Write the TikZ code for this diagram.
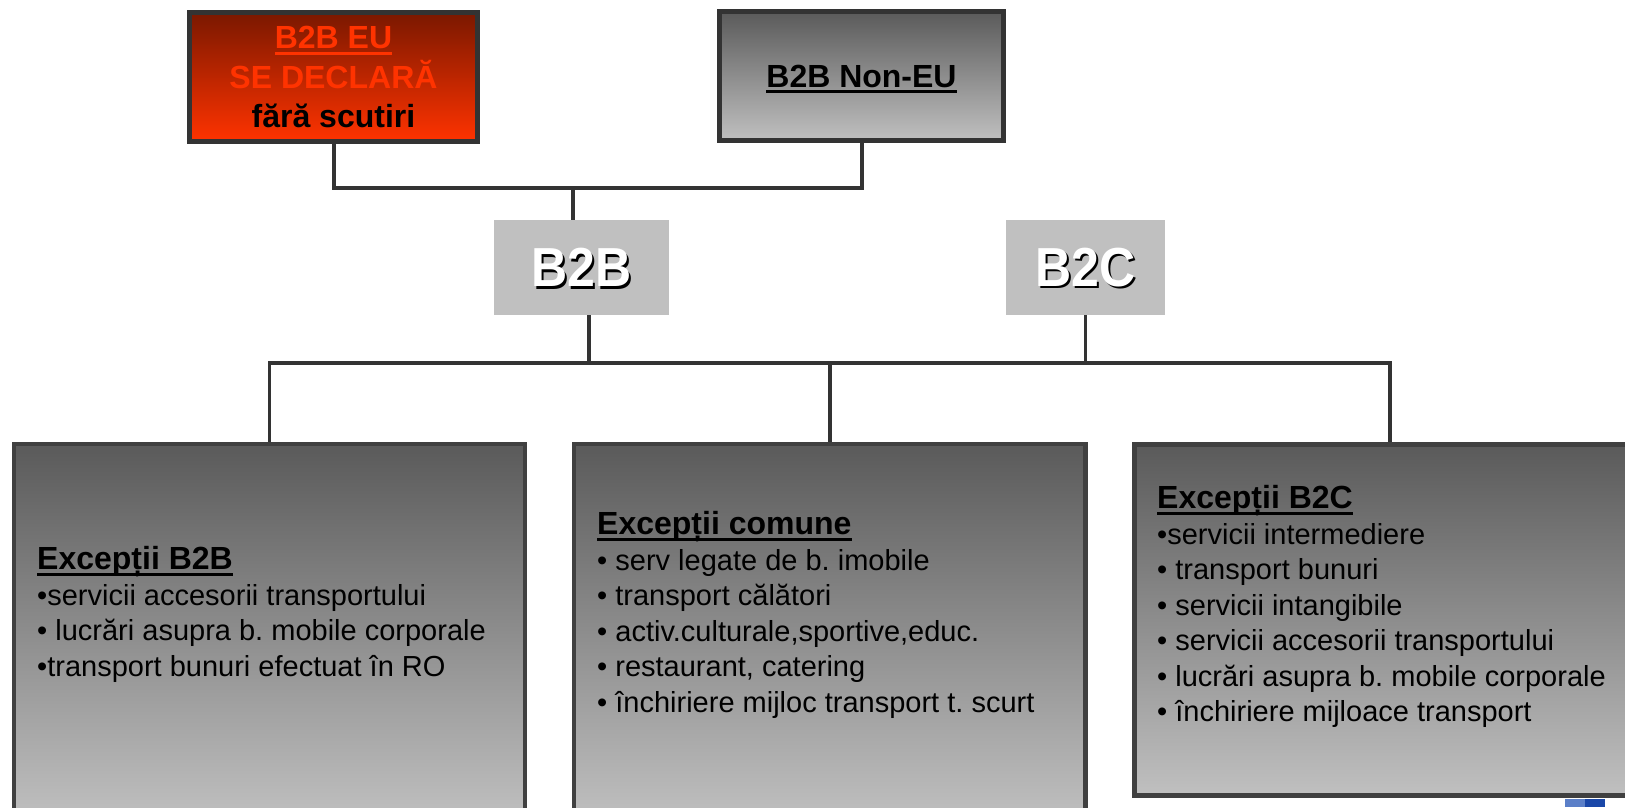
\documentclass[tikz,border=0pt]{standalone}
\usepackage{fontspec}
\usepackage{graphicx}
\setmainfont{Liberation Sans}
\frenchspacing
\definecolor{redtop}{HTML}{7A1800}
\definecolor{redbot}{HTML}{FF3300}
\definecolor{txtred}{HTML}{FF3300}
\definecolor{gtop}{HTML}{5A5A5A}
\definecolor{gbot}{HTML}{C0C0C0}
\definecolor{edge}{HTML}{333333}
\definecolor{edgeb}{HTML}{404040}
\definecolor{lblue}{HTML}{5B7FC8}
\definecolor{dblue}{HTML}{1A47A8}
\newsavebox\ulbox
\newcommand\myul[1]{\sbox\ulbox{#1}\rlap{\raisebox{-0.19em}[0pt][0pt]{\rule{\wd\ulbox}{0.085em}}}\usebox\ulbox}
\newcommand\shtext[1]{\scalebox{0.91}[1]{\rlap{\kern2.5pt\raisebox{-2.5pt}[0pt][0pt]{\color{black}#1}}\color{white}#1}}
\newcommand\headfont{\fontsize{32}{35.5}\selectfont\bfseries}
\tikzset{
  topbox/.style={draw=edge, line width=5pt, inner sep=0pt, align=center,
    font=\fontsize{32}{39.5}\selectfont\bfseries},
  midbox/.style={fill=gbot, draw=none, inner sep=0pt,
    font=\fontsize{55}{60}\selectfont\bfseries},
  lowbox/.style={draw=edgeb, line width=4.5pt, top color=gtop, bottom color=gbot, inner sep=0pt},
  listtext/.style={align=left, inner sep=0pt, anchor=north west,
    font=\fontsize{29}{35.5}\selectfont\frenchspacing},
  conn/.style={draw=edge, line width=3.5pt},
  connt/.style={draw=edge, line width=4pt}
}
\begin{document}
\begin{tikzpicture}[x=1pt,y=-1pt]
\useasboundingbox (0,0) rectangle (1625,807);
\clip (0,0) rectangle (1625,807);
% top boxes
\node[topbox, top color=redtop, bottom color=redbot, minimum width=288pt, minimum height=129pt] (eu) at (333.5,77)
  {\textcolor{txtred}{\myul{B2B EU}}\\ \textcolor{txtred}{SE DECLARĂ}\\ fără scutiri};
\node[topbox, top color=gtop, bottom color=gbot, minimum width=284pt, minimum height=129pt] (noneu) at (861.5,76)
  {\myul{B2B Non-EU}};
% middle boxes
\node[midbox, minimum width=175pt, minimum height=95pt] (b2b) at (581.5,267.5) {\shtext{B2B}};
\node[midbox, minimum width=159pt, minimum height=95pt] (b2c) at (1085.5,267.5) {\shtext{B2C}};
% bottom boxes
\node[lowbox, minimum width=511pt, minimum height=376pt] (left) at (269.5,632) {};
\node[lowbox, minimum width=511.5pt, minimum height=376pt] (mid) at (829.75,632) {};
\node[lowbox, minimum width=511pt, minimum height=351pt] (right) at (1390,620) {};
% texts
\node[listtext] (t1) at (37,546.5) {{\headfont\myul{Excepții B2B}}\\•servicii accesorii transportului\\• lucrări asupra b. mobile corporale\\•transport bunuri efectuat în RO};
\node[listtext] (t2) at (597,511.5) {{\headfont\myul{Excepții comune}}\\• serv legate de b. imobile\\• transport călători\\• activ.culturale,sportive,educ.\\• restaurant, catering\\• închiriere mijloc transport t. scurt};
\node[listtext] (t3) at (1157,485.5) {{\headfont\myul{Excepții B2C}}\\•servicii intermediere\\• transport bunuri\\• servicii intangibile\\• servicii accesorii transportului\\• lucrări asupra b. mobile corporale\\• închiriere mijloace transport};
% connectors
\coordinate (j1) at (573,188);
\draw[connt] (eu.south) |- (j1) -| (noneu.south);
\draw[connt] (j1) -- (j1 |- b2b.north);
\coordinate (j2) at (829.75,363);
\coordinate (k1) at (589,363);
\draw[conn] (left.north) |- (j2) -| (right.north);
\draw[conn] (mid.north) -- (j2);
\draw[conn] (k1 |- b2b.south) -- (k1);
\draw[conn] (b2c.south) -- (b2c.south |- k1);
% logo fragment
\fill[lblue] (1565,799) rectangle (1585,807);
\fill[dblue] (1585,799) rectangle (1605,807);
\end{tikzpicture}
\end{document}
